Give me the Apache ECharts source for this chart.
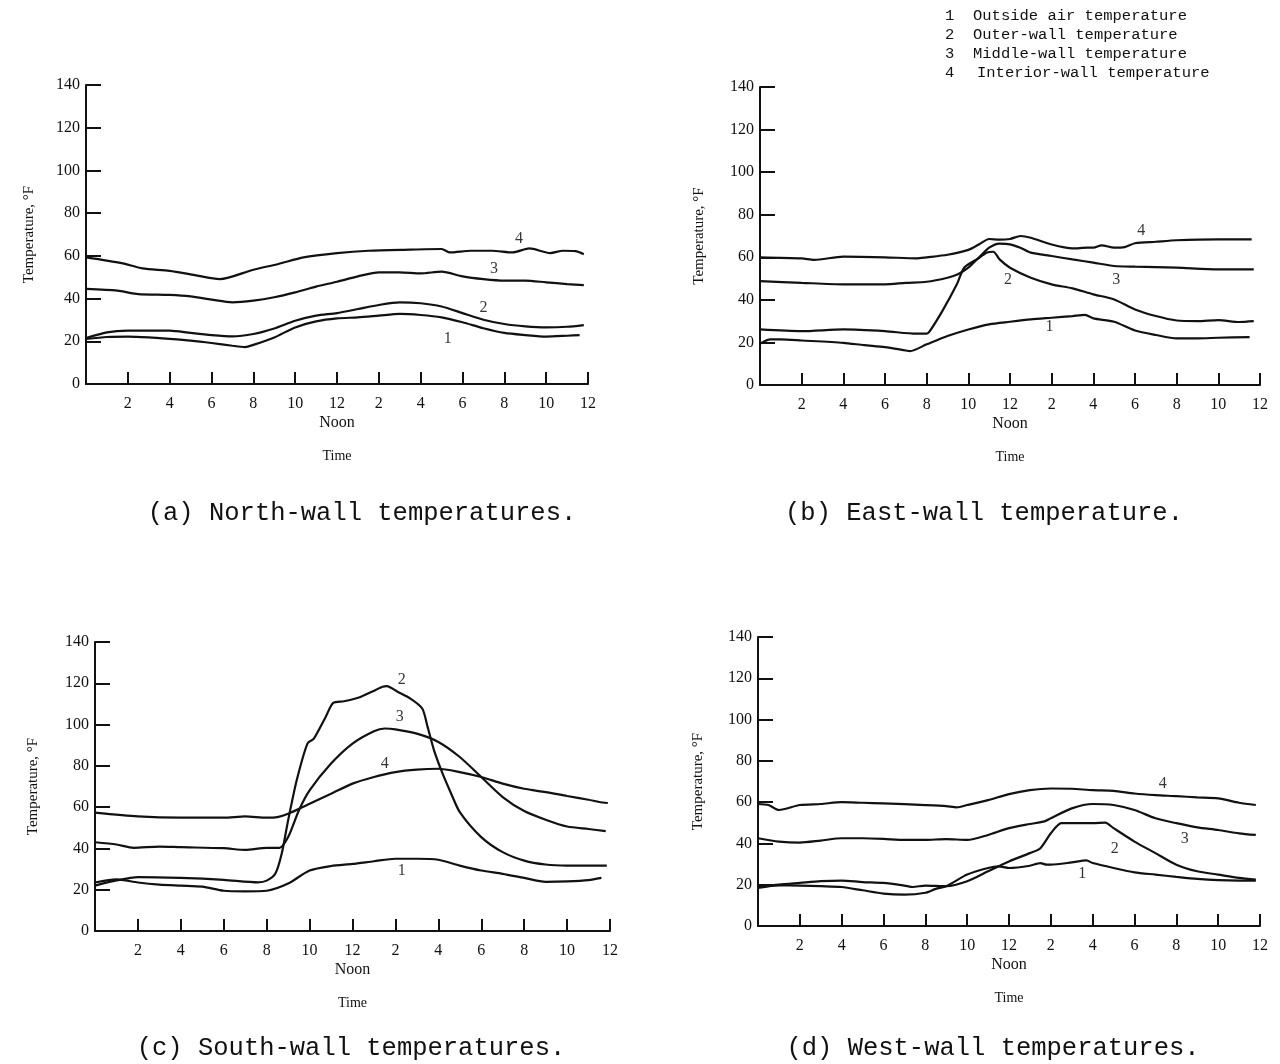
<!DOCTYPE html>
<html>
<head>
<meta charset="utf-8">
<title>Wall temperatures</title>
<script src="https://cdn.jsdelivr.net/npm/echarts@6/dist/echarts.min.js"></script>
<style>
  html, body { margin: 0; padding: 0; background: #fff; }
  #chart { width: 1280px; height: 1064px; }
</style>
</head>
<body>
<div id="chart"></div>
<script>
// Hour-of-day tick labels (midnight to midnight, every 2 h)
const hourLabels = ['', '2', '4', '6', '8', '10', '12\nNoon', '2', '4', '6', '8', '10', '12'];

const legendItems = [
  ['1', 'Outside air temperature'],
  ['2', 'Outer-wall temperature'],
  ['3', 'Middle-wall temperature'],
  ['4', 'Interior-wall temperature']
];

const captions = [
  '(a) North-wall temperatures.',
  '(b) East-wall temperature.',
  '(c) South-wall temperatures.',
  '(d) West-wall temperatures.'
];

// ---- (a) North wall: [hour, °F] ----
const northOutsideAir = [[0,21.1],[1,22],[2,22.2],[3,21.8],[4,21.1],[5,20.3],[6,19.2],[7,17.9],[7.6,17.3],[8,18.3],[9,21.8],[10,26.5],[11,29.3],[12,30.7],[13,31.2],[14,32],[15,32.8],[16,32.3],[17,31.2],[18,28.9],[19,26.1],[20,23.9],[21,22.9],[22,22.2],[23,22.6],[23.6,22.9]];
const northOuterWall = [[0,21.5],[1,24.2],[2,25],[4,25],[5,23.9],[6,22.9],[7,22.3],[8,23.4],[9,26],[10,29.6],[11,32],[12,33.2],[13,35.1],[14,37],[15,38.2],[16,37.8],[17,36.3],[18,33.2],[19,30.1],[20,28.1],[21,27],[22,26.5],[23,26.8],[23.8,27.6]];
const northMiddleWall = [[0,44.5],[1.5,43.7],[2.5,42.1],[4,41.7],[5,41],[6,39.5],[7,38.2],[8,39],[9,40.6],[10,42.9],[11,45.6],[12,47.9],[13,50.4],[14,52.3],[15,52.3],[16,51.8],[17,52.6],[18,50.4],[19,49.1],[20,48.4],[21,48.4],[22,47.6],[23,46.8],[23.8,46.3]];
const northInteriorWall = [[0,59.3],[1.7,56.6],[2.7,54.1],[4,53],[5.2,51],[6.4,49.1],[8,53.5],[9.2,56.2],[10.4,59.3],[12,61.3],[13.5,62.4],[15.5,62.9],[17,63.2],[17.4,61.6],[18.4,62.4],[19.4,62.4],[20.4,61.6],[21.2,63.5],[22.2,61.3],[22.8,62.4],[23.4,62.2],[23.8,60.8]];
const northTags = [[20.7,67.9,'4'],[19.5,54,'3'],[19.0,35.5,'2'],[17.3,21,'1']];

// ---- (b) East wall ----
const eastOutsideAir = [[0,19.4],[0.5,21.4],[1,21.4],[2,20.9],[4,19.8],[5,18.7],[6,17.8],[7,16.2],[7.2,15.9],[8,19.1],[9,23],[10,26.1],[11,28.5],[12,29.7],[13,30.8],[14,31.6],[15,32.4],[15.6,32.9],[16,31.3],[17,29.7],[18,25.6],[19,23.5],[20,21.9],[21,21.9],[22,22.2],[23.5,22.5]];
const eastOuterWall = [[0,26.1],[2,25.3],[4,26.1],[6,25.3],[7.5,24.1],[8,24.1],[8.15,25.3],[8.75,34.7],[9.45,47.3],[9.8,55.1],[10.4,59],[10.9,62.2],[11.2,62.6],[11.5,59],[12,55.1],[13,50.4],[14,47.3],[15,45.4],[16,42.6],[17,40.2],[18,35.5],[19,32.4],[20,30.3],[21,30],[22,30.5],[23,29.6],[23.7,30]];
const eastMiddleWall = [[0,48.8],[2,48],[4,47.3],[6,47.3],[7,48],[8,48.5],[9,50.4],[9.5,52],[10,55.1],[10.5,59.8],[11,64.5],[11.5,66.4],[12,66.1],[12.5,64.5],[13,62.2],[14,60.6],[15,59],[16,57.5],[17,55.9],[18,55.6],[20,55.1],[22,54.3],[23.7,54.3]];
const eastInteriorWall = [[0,60],[2,59.5],[2.6,58.8],[4,60.3],[6,60],[7.5,59.5],[8,60],[9,61.2],[10,63.5],[10.5,66],[11,68.6],[11.5,68.3],[12,68.6],[12.5,70],[13,69.2],[14,66],[15,64.2],[15.7,64.5],[16,64.5],[16.4,65.6],[17,64.5],[17.5,64.8],[18,66.6],[19,67.3],[20,68],[22,68.4],[23.6,68.4]];
const eastTags = [[18.3,72.5,'4'],[17.1,49.5,'3'],[11.9,49.5,'2'],[13.9,27.5,'1']];

// ---- (c) South wall ----
const southOutsideAir = [[0,23.5],[1,25],[2,23.5],[3,22.5],[4,22],[5,21.5],[6,19.5],[7,19.2],[8,19.5],[9,23],[10,29.3],[11,31.5],[12,32.5],[13,33.8],[14,35],[15,35],[16,34.5],[17,31.7],[18,29.3],[19,27.7],[20,25.7],[21,23.8],[22,24],[23,24.6],[23.6,25.7]];
const southOuterWall = [[0,22],[1,24.5],[2,26.1],[4,25.7],[6,24.8],[7.6,23.6],[8,24.4],[8.4,27.7],[8.7,37.4],[9,53.6],[9.4,73],[9.9,90.8],[10.2,93.2],[10.75,103.7],[11.1,110.5],[11.6,111.3],[12.3,113.1],[12.9,115.9],[13.4,118.3],[13.6,118.6],[14.1,115.9],[14.7,112.6],[15.25,107.8],[15.5,98.9],[15.8,87.5],[16.2,76.2],[16.6,66.5],[17,57.6],[18,45.5],[19,38.2],[20,34.1],[21,32.2],[22,31.7],[23,31.7],[23.85,31.7]];
const southMiddleWall = [[0,43],[1,41.9],[1.8,40.3],[3,40.9],[4,40.6],[6,40.1],[7,39.3],[8,40.3],[8.6,40.3],[9,45.5],[9.5,58.4],[10,68.1],[11,81.1],[12,90.8],[13,96.8],[13.5,98.1],[14,97.7],[15,95.6],[16,91.6],[17,84.3],[18,74.6],[19,64.9],[20,58.1],[21,53.9],[22,50.6],[23,49.4],[23.8,48.4]];
const southInteriorWall = [[0,57.3],[2,55.5],[4,54.9],[6,54.9],[7,55.5],[8,54.9],[8.5,55.2],[9,56.8],[10,61.7],[11,66.5],[12,71.4],[13,74.6],[14,77],[15,78.2],[16,78.6],[17,77],[18,74.6],[19,71.4],[20,68.9],[21,67.3],[22,65.4],[23,63.6],[23.5,62.5],[23.9,62]];
const southTags = [[14.3,121.5,'2'],[14.2,104,'3'],[13.5,81,'4'],[14.3,29,'1']];

// ---- (d) West wall ----
const westOutsideAir = [[0,18.5],[1,19.7],[2,19.6],[3,19.3],[4,18.9],[5,17.3],[6,15.7],[7,15.2],[8,16.1],[8.5,18],[9,19.3],[10,24.9],[11,28.1],[11.5,28.9],[12,28.1],[13,29.2],[13.5,30.5],[13.8,29.7],[14,29.7],[15,30.8],[15.7,31.8],[16,30.5],[17,28.1],[18,26],[19,24.9],[20,23.8],[21,22.8],[22,22.2],[23,22],[23.8,22]];
const westOuterWall = [[0,18.9],[1,20.1],[2,20.9],[3,21.7],[4,22],[5,21.3],[6,20.9],[7,19.6],[7.4,18.9],[8,19.6],[9,19.3],[10,21.7],[11,26.5],[12,31.3],[13,35.3],[13.5,37.7],[14,44.9],[14.5,49.8],[15,49.8],[16,49.8],[16.6,50.1],[17,47.4],[18,40.9],[19,35.3],[20,29.7],[21,26.5],[22,24.9],[23,23.3],[23.8,22.5]];
const westMiddleWall = [[0,42.5],[1,40.9],[2,40.4],[3,41.4],[4,42.5],[5,42.5],[6,42.2],[7,41.7],[8,41.7],[9,42.1],[10,41.7],[11,44.1],[12,47.4],[13,49.4],[13.7,50.7],[14,52.2],[15,57],[16,59.1],[17,58.6],[18,56.2],[19,52.2],[20,49.8],[21,47.8],[22,46.5],[23,44.9],[23.8,44.1]];
const westInteriorWall = [[0,59.1],[0.5,58.6],[1,56.2],[2,58.6],[3,59.1],[4,60],[5,59.7],[6,59.4],[8,58.6],[9,58.1],[9.5,57.5],[10,58.6],[11,61],[12,63.9],[13,65.8],[14,66.6],[15,66.5],[16,65.8],[17,65.5],[18,64.2],[19,63.4],[20,62.9],[21,62.3],[22,61.8],[23,59.7],[23.8,58.6]];
const westTags = [[19.35,69,'4'],[20.4,42.3,'3'],[17.05,37.5,'2'],[15.5,25.5,'1']];

const panels = [
  { curves: [northOutsideAir, northOuterWall, northMiddleWall, northInteriorWall], tags: northTags,
    box: { left: 86, top: 85, width: 502, height: 299 }, nameGap: 49 },
  { curves: [eastOutsideAir, eastOuterWall, eastMiddleWall, eastInteriorWall], tags: eastTags,
    box: { left: 760, top: 87, width: 500, height: 298 }, nameGap: 53 },
  { curves: [southOutsideAir, southOuterWall, southMiddleWall, southInteriorWall], tags: southTags,
    box: { left: 95, top: 642, width: 515, height: 289 }, nameGap: 54 },
  { curves: [westOutsideAir, westOuterWall, westMiddleWall, westInteriorWall], tags: westTags,
    box: { left: 758, top: 637, width: 502, height: 289 }, nameGap: 52 }
];

const INK = '#111';
const serif = '"Liberation Serif", "DejaVu Serif", serif';
const mono = '"Liberation Mono", "DejaVu Sans Mono", monospace';

const grid = [], xAxis = [], yAxis = [], series = [];

panels.forEach((p, i) => {
  grid.push(Object.assign({ containLabel: false, outerBoundsMode: 'none' }, p.box));
  xAxis.push({
    gridIndex: i, type: 'value', min: 0, max: 24, interval: 2,
    name: 'Time', nameLocation: 'middle', nameGap: 65,
    nameTextStyle: { fontFamily: serif, fontSize: 14, color: INK },
    axisLine: { lineStyle: { color: INK, width: 2 } },
    axisTick: { inside: true, length: 12, lineStyle: { color: INK, width: 2 } },
    axisLabel: {
      margin: 10, fontFamily: serif, fontSize: 16, color: INK, lineHeight: 19,
      rich: {},
      formatter: v => hourLabels[Math.round(v / 2)] || ''
    },
    splitLine: { show: false }
  });
  yAxis.push({
    gridIndex: i, type: 'value', min: 0, max: 140, interval: 20,
    name: 'Temperature, °F', nameLocation: 'middle', nameGap: p.nameGap, nameRotate: 90,
    nameTextStyle: { fontFamily: serif, fontSize: 15, color: INK },
    axisLine: { show: true, lineStyle: { color: INK, width: 2 } },
    axisTick: { show: true, inside: true, length: 15, lineStyle: { color: INK, width: 2 } },
    axisLabel: { margin: 6, fontFamily: serif, fontSize: 16, color: INK },
    splitLine: { show: false }
  });
  p.curves.forEach(c => {
    series.push({
      type: 'line', xAxisIndex: i, yAxisIndex: i, data: c,
      showSymbol: false, smooth: 0.25, silent: true,
      lineStyle: { color: INK, width: 2.2 }
    });
  });
  series.push({
    type: 'scatter', xAxisIndex: i, yAxisIndex: i, data: p.tags,
    symbolSize: 1, itemStyle: { color: 'transparent' }, silent: true,
    label: {
      show: true, position: 'inside', formatter: d => d.value[2],
      fontFamily: serif, fontSize: 16, color: '#000'
    }
  });
});

// Curve-number key (top right) and panel captions
const graphic = [];
legendItems.forEach((item, k) => {
  graphic.push({ type: 'text', left: 945, top: 8 + k * 19,
    style: { text: item[0], font: '15.5px ' + mono, fill: INK } });
  graphic.push({ type: 'text', left: k === 3 ? 977 : 973, top: 8 + k * 19,
    style: { text: item[1], font: '15.5px ' + mono, fill: INK } });
});
const capPos = [[362, 513], [984, 513], [351, 1048], [993, 1048]];
captions.forEach((t, k) => {
  graphic.push({ type: 'text', x: capPos[k][0], y: capPos[k][1],
    style: { text: t, font: '25.5px ' + mono, fill: INK, align: 'center', verticalAlign: 'middle' } });
});

const chart = echarts.init(document.getElementById('chart'), null, { renderer: 'canvas' });
chart.setOption({
  backgroundColor: '#fff',
  animation: false,
  grid, xAxis, yAxis, series, graphic
});
</script>
</body>
</html>
